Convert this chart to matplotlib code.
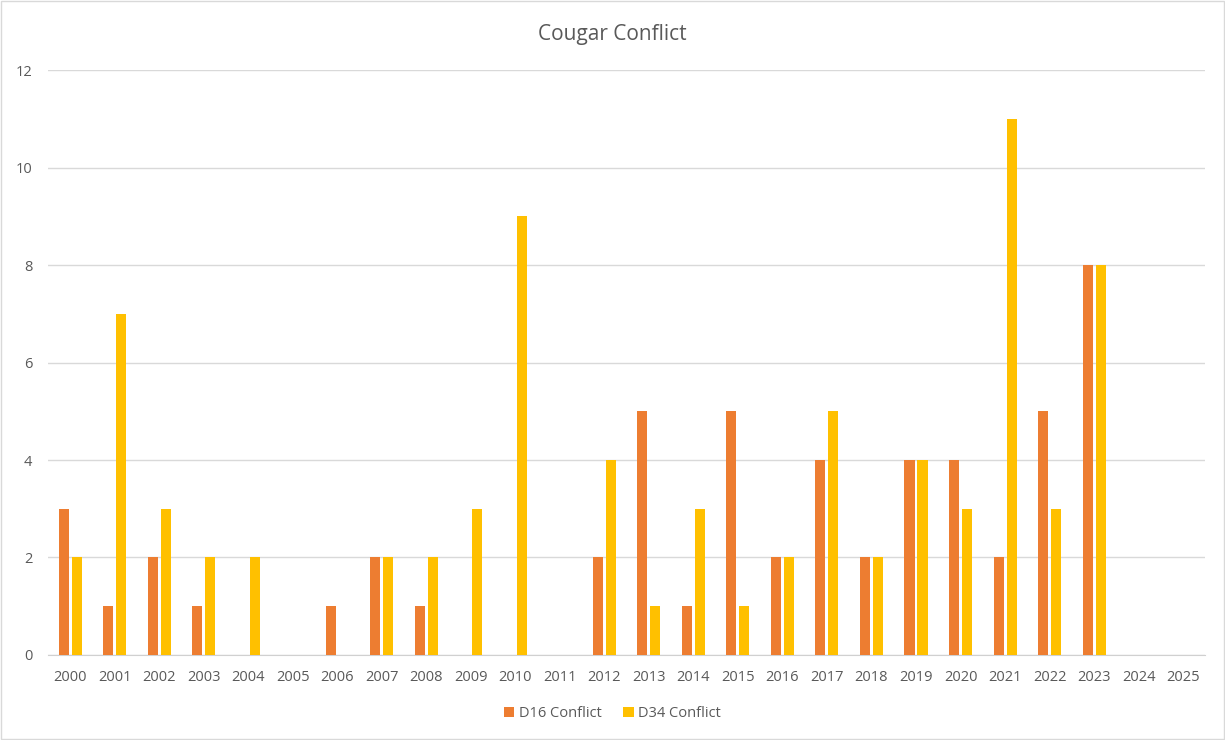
import numpy as np
import matplotlib.pyplot as plt
from matplotlib.patches import Rectangle

plt.rcParams['font.family'] = ['Open Sans', 'DejaVu Sans']

# data
years = [str(y) for y in range(2000, 2026)]
d16 = [3, 1, 2, 1, 0, 0, 1, 2, 1, 0, 0, 0, 2, 5, 1, 5, 2, 4, 2, 4, 4, 2, 5, 8, 0, 0]
d34 = [2, 7, 3, 2, 2, 0, 0, 2, 2, 3, 9, 0, 4, 1, 3, 1, 2, 5, 2, 4, 3, 11, 3, 8, 0, 0]

color_d16 = '#ED7D31'
color_d34 = '#FFC000'
text_color = '#595959'

fig = plt.figure(figsize=(12.25, 7.4), dpi=100)
ax = fig.add_axes([0.039, 0.115, 0.945, 0.79])

x = np.arange(len(years))
width = 0.225
ax.bar(x - 0.146, d16, width=width, color=color_d16, label='D16 Conflict', zorder=3)
ax.bar(x + 0.146, d34, width=width, color=color_d34, label='D34 Conflict', zorder=3)

ax.set_xlim(-0.5, len(years) - 0.5)
ax.set_ylim(0, 12)
ax.set_yticks(range(0, 13, 2))
ax.set_xticks(x)
ax.set_xticklabels(years)
ax.grid(axis='y', color='#D9D9D9', linewidth=1, zorder=0)
for side in ['top', 'right', 'left']:
    ax.spines[side].set_visible(False)
ax.spines['bottom'].set_color('#D0D0D0')
ax.tick_params(axis='both', length=0, colors=text_color, labelsize=10.5)
ax.tick_params(axis='x', pad=11)
ax.tick_params(axis='y', pad=11)

fig.suptitle('Cougar Conflict', x=0.5, y=0.968, fontsize=15, color=text_color)

fig.legend(loc='center', bbox_to_anchor=(0.5, 0.036), ncol=2, frameon=False,
           fontsize=10.5, labelcolor=text_color, handlelength=0.7, handleheight=0.7,
           handletextpad=0.3, columnspacing=1.5)

fig.patches.append(Rectangle((0.001, 0.001), 0.998, 0.998, transform=fig.transFigure,
                             fill=False, edgecolor='#D9D9D9', linewidth=1))

plt.savefig('out.png', dpi=100)
